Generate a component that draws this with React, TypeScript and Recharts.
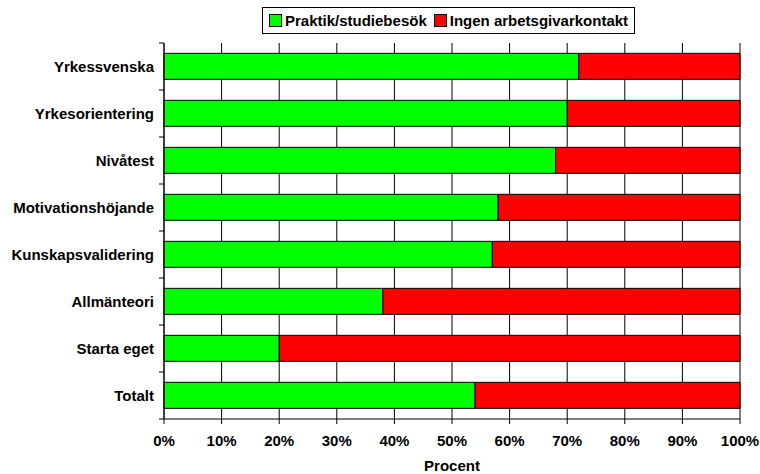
import { BarChart, Bar, XAxis, YAxis, CartesianGrid, Legend } from "recharts";

const categories = [
  "Yrkessvenska",
  "Yrkesorientering",
  "Nivåtest",
  "Motivationshöjande",
  "Kunskapsvalidering",
  "Allmänteori",
  "Starta eget",
  "Totalt",
];
const praktik = [72, 70, 68, 58, 57, 38, 20, 54];
const ingen = [28, 30, 32, 42, 43, 62, 80, 46];
const xTicks = [0, 10, 20, 30, 40, 50, 60, 70, 80, 90, 100];

const series = [
  { key: "praktik", name: "Praktik/studiebesök", color: "#00ff00" },
  { key: "ingen", name: "Ingen arbetsgivarkontakt", color: "#ff0000" },
];

const data = categories.map((name, i) => ({
  name,
  praktik: praktik[i],
  ingen: ingen[i],
}));

const FONT = "'Liberation Sans', Arial, sans-serif";

// category labels, with tick marks on the band boundaries
function CategoryTick(props: any) {
  const { x, y, payload, index } = props;
  const half = payload?.offset ?? 23.5;
  return (
    <g>
      <line x1={x + 5} x2={x + 10} y1={y + half} y2={y + half} stroke="#000" />
      {index === 0 && (
        <line x1={x + 5} x2={x + 10} y1={y - half} y2={y - half} stroke="#000" />
      )}
      <text
        x={x}
        y={y}
        dy="0.35em"
        textAnchor="end"
        fontFamily={FONT}
        fontWeight="bold"
        fontSize={15}
        fill="#000"
      >
        {payload.value}
      </text>
    </g>
  );
}

function LegendBox() {
  return (
    <div
      style={{
        display: "flex",
        alignItems: "center",
        gap: 7,
        border: "1px solid #000",
        padding: "4px 6px",
        fontFamily: FONT,
        fontWeight: "bold",
        fontSize: 15,
        background: "#fff",
        whiteSpace: "nowrap",
      }}
    >
      {series.map((s) => (
        <span key={s.key} style={{ display: "flex", alignItems: "center", gap: 3 }}>
          <span
            style={{
              width: 11,
              height: 11,
              background: s.color,
              border: "1px solid #000",
              display: "inline-block",
            }}
          />
          {s.name}
        </span>
      ))}
    </div>
  );
}

export default function App() {
  return (
    <div style={{ position: "absolute", left: 0, top: 0, background: "#fff" }}>
      <BarChart
        width={760}
        height={474}
        data={data}
        layout="vertical"
        margin={{ top: 43, right: 20, bottom: 0, left: 0 }}
        barCategoryGap="22%"
      >
        <CartesianGrid horizontal={false} stroke="#000" strokeOpacity={1} />
        <XAxis
          type="number"
          domain={[0, 100]}
          ticks={xTicks}
          interval={0}
          tickFormatter={(v: number) => `${v}%`}
          stroke="#000"
          tickSize={5}
          tickMargin={11}
          tick={{ fill: "#000", fontFamily: FONT, fontWeight: "bold", fontSize: 15 }}
          height={55}
          label={{
            value: "Procent",
            position: "insideBottom",
            offset: 3,
            fill: "#000",
            fontFamily: FONT,
            fontWeight: "bold",
            fontSize: 15,
          }}
        />
        <XAxis
          xAxisId="top"
          type="number"
          domain={[0, 100]}
          orientation="top"
          tick={false}
          tickLine={false}
          height={0}
          stroke="#000"
        />
        <YAxis
          type="category"
          dataKey="name"
          width={164}
          stroke="#000"
          tickLine={false}
          tick={<CategoryTick />}
          tickMargin={4}
        />
        <Legend
          layout="vertical"
          align="center"
          verticalAlign="middle"
          wrapperStyle={{ top: 7, left: 262, width: "auto" }}
          content={() => <LegendBox />}
        />
        {series.map((s) => (
          <Bar
            key={s.key}
            dataKey={s.key}
            name={s.name}
            stackId="a"
            fill={s.color}
            stroke="#000"
            strokeWidth={1}
            isAnimationActive={false}
          />
        ))}
      </BarChart>
    </div>
  );
}
